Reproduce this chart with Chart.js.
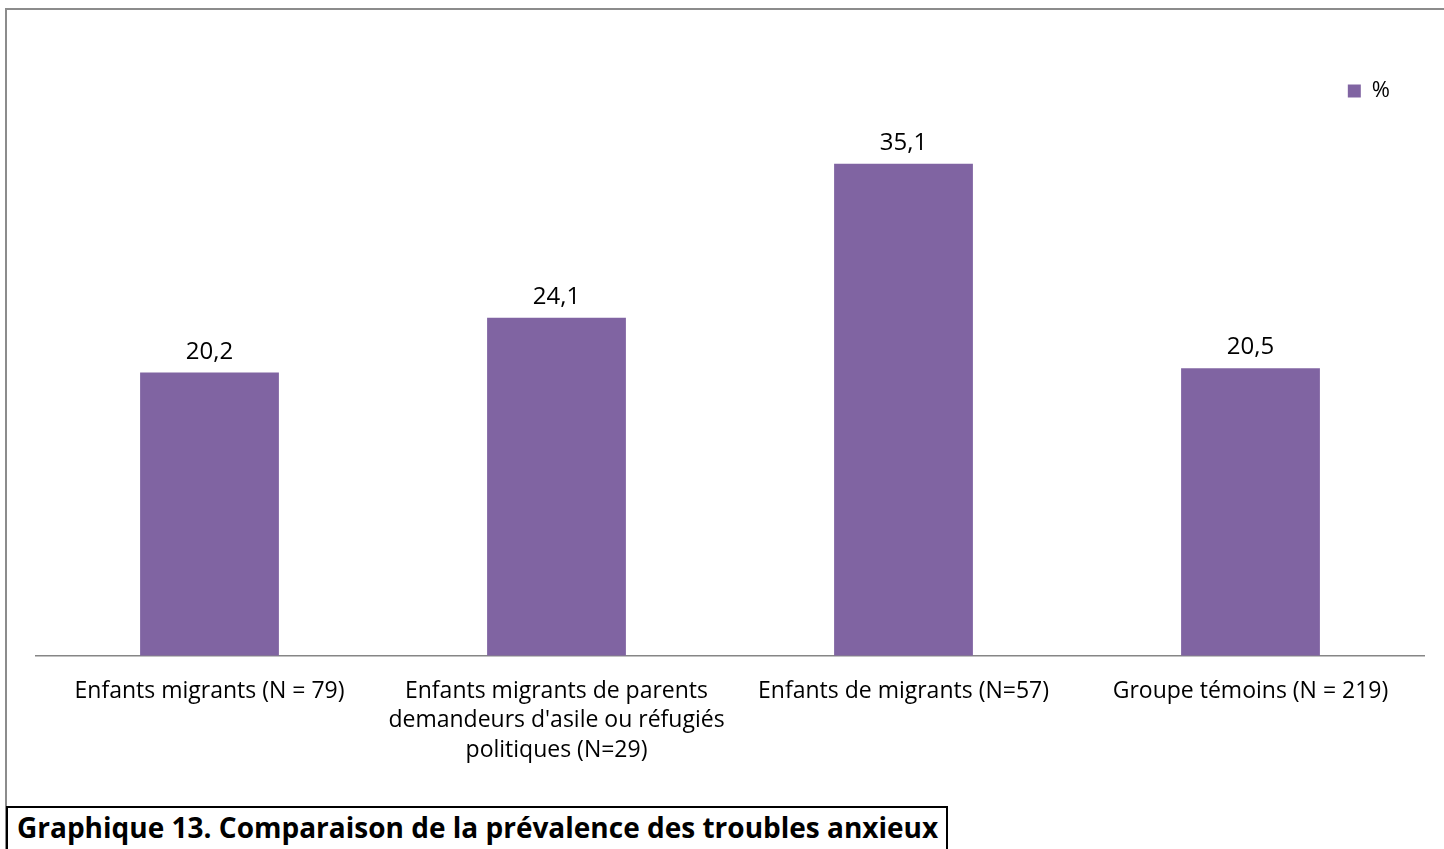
<!DOCTYPE html>
<html>
<head>
<meta charset="utf-8">
<title>Graphique 13</title>
<script src="https://cdn.jsdelivr.net/npm/chart.js@4.4.1/dist/chart.umd.min.js"></script>
<style>
    html, body { margin: 0; padding: 0; background: #fff; }
    #wrap { position: relative; width: 1444px; height: 849px; overflow: hidden; }
    #frame {
        position: absolute; left: 5px; top: 8px; width: 1500px; height: 900px;
        border-left: 2px solid #8c8c8c; border-top: 2px solid #8c8c8c;
    }
    #chart { position: absolute; left: 0; top: 0; }
    #caption {
        position: absolute; left: 6px; top: 806px;
        border: 2px solid #000; border-bottom: none; background: #fff;
        padding: 0 8px 20px 9px; line-height: 27px;
        font: bold 28px "Open Sans", sans-serif; color: #000; white-space: nowrap;
    }
</style>
</head>
<body>
<div id="wrap">
    <div id="frame"></div>
    <canvas id="chart" width="1444" height="849"></canvas>
    <div id="caption">Graphique 13. Comparaison de la prévalence des troubles anxieux</div>
</div>
<script>
    // data
    const categories = [
        ['Enfants migrants (N = 79)'],
        ['Enfants migrants de parents', "demandeurs d'asile ou réfugiés", 'politiques (N=29)'],
        ['Enfants de migrants (N=57)'],
        ['Groupe témoins (N = 219)']
    ];
    const percentValues = [20.2, 24.1, 35.1, 20.5];
    const seriesName = '%';
    const yMin = 0;
    const yMax = 40;

    const barColor = '#8064a2';
    const fontFamily = '"Open Sans", sans-serif';

    // value labels above each bar, comma decimals
    const valueLabels = {
        id: 'valueLabels',
        afterDatasetsDraw(chart) {
            const ctx = chart.ctx;
            ctx.save();
            ctx.font = '24px ' + fontFamily;
            ctx.fillStyle = '#000';
            ctx.textAlign = 'center';
            ctx.textBaseline = 'alphabetic';
            chart.getDatasetMeta(0).data.forEach((bar, i) => {
                const txt = percentValues[i].toFixed(1).replace('.', ',');
                ctx.fillText(txt, bar.x, bar.y - 14);
            });
            ctx.restore();
        }
    };

    // nudge the legend down/left so it sits where the original has it
    const legendNudge = {
        id: 'legendNudge',
        afterLayout(chart) {
            const lg = chart.legend;
            if (!lg) return;
            lg.top += 17; lg.bottom += 17;
            lg.left -= 24; lg.right -= 24;
        }
    };

    new Chart(document.getElementById('chart'), {
        type: 'bar',
        data: {
            labels: categories,
            datasets: [{
                label: seriesName,
                data: percentValues,
                backgroundColor: barColor,
                barPercentage: 0.4,
                categoryPercentage: 1
            }]
        },
        options: {
            responsive: false,
            animation: false,
            layout: { padding: { left: 36, right: 20, top: 53, bottom: 63 } },
            plugins: {
                legend: {
                    position: 'top',
                    align: 'end',
                    labels: {
                        boxWidth: 13,
                        boxHeight: 13,
                        padding: 10,
                        color: '#000',
                        font: { family: fontFamily, size: 22 }
                    }
                },
                tooltip: { enabled: false }
            },
            scales: {
                x: {
                    grid: { display: false, drawTicks: false },
                    border: { display: true, color: '#868686', width: 1.5 },
                    ticks: {
                        color: '#000',
                        padding: 21,
                        maxRotation: 0,
                        autoSkip: false,
                        font: { family: fontFamily, size: 23, lineHeight: 1.28 }
                    }
                },
                y: {
                    display: false,
                    min: yMin,
                    max: yMax
                }
            }
        },
        plugins: [valueLabels, legendNudge]
    });
</script>
</body>
</html>
